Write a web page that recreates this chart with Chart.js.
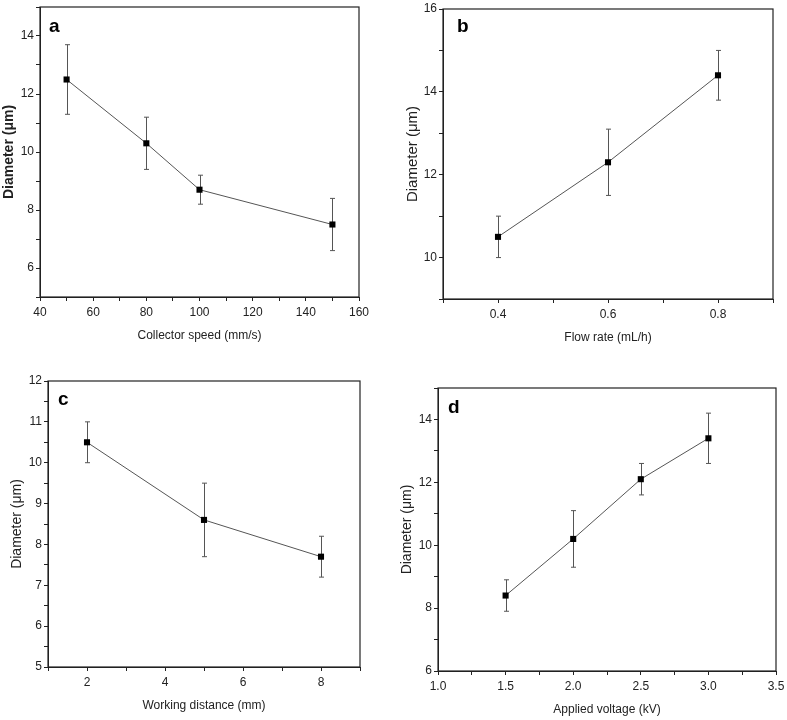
<!DOCTYPE html>
<html>
<head>
<meta charset="utf-8">
<script src="https://cdn.jsdelivr.net/npm/chart.js@4.4.1/dist/chart.umd.min.js"></script>
<style>
  body { margin: 0; background: #fff; width: 787px; height: 720px; overflow: hidden; position: relative; }
  .panel { position: absolute; }
</style>
</head>
<body>
<div class="panel" id="pa"><canvas id="ca"></canvas></div>
<div class="panel" id="pb"><canvas id="cb"></canvas></div>
<div class="panel" id="pc"><canvas id="cc"></canvas></div>
<div class="panel" id="pd"><canvas id="cd"></canvas></div>
<script>
// (a) collector speed
const speedX = [50, 80, 100, 150];
const speedY = [12.5, 10.3, 8.7, 7.5];
const speedErr = [1.2, 0.9, 0.5, 0.9];
// (b) flow rate
const flowX = [0.4, 0.6, 0.8];
const flowY = [10.5, 12.3, 14.4];
const flowErr = [0.5, 0.8, 0.6];
// (c) working distance
const distX = [2, 5, 8];
const distY = [10.5, 8.6, 7.7];
const distErr = [0.5, 0.9, 0.5];
// (d) applied voltage
const voltX = [1.5, 2.0, 2.5, 3.0];
const voltY = [8.4, 10.2, 12.1, 13.4];
const voltErr = [0.5, 0.9, 0.5, 0.8];

const ink = '#222';
const family = "'Liberation Sans', Arial, sans-serif";
const YW = 39, XH = 46;

// box around the plot area + panel letter
const framePlugin = {
  id: 'frame',
  afterDraw(chart, args, opts) {
    const a = chart.chartArea, ctx = chart.ctx;
    ctx.save();
    ctx.strokeStyle = ink;
    ctx.lineWidth = 1.2;
    ctx.strokeRect(a.left, a.top, a.right - a.left, a.bottom - a.top);
    ctx.fillStyle = '#000';
    ctx.font = 'bold 19px ' + family;
    ctx.textBaseline = 'alphabetic';
    ctx.fillText(opts.letter, a.left + opts.dx, a.top + opts.dy);
    ctx.restore();
  }
};

// vertical error bars with caps
const errorBars = {
  id: 'errorBars',
  beforeDatasetsDraw(chart) {
    const ctx = chart.ctx, xs = chart.scales.x, ys = chart.scales.y;
    ctx.save();
    ctx.strokeStyle = '#555';
    ctx.lineWidth = 1;
    chart.data.datasets.forEach(ds => {
      ds.data.forEach((p, i) => {
        const e = ds.errors[i];
        const px = Math.round(xs.getPixelForValue(p.x)) + 0.5;
        const top = ys.getPixelForValue(p.y + e);
        const bot = ys.getPixelForValue(p.y - e);
        ctx.beginPath();
        ctx.moveTo(px, top); ctx.lineTo(px, bot);
        ctx.moveTo(px - 2.5, top); ctx.lineTo(px + 2.5, top);
        ctx.moveTo(px - 2.5, bot); ctx.lineTo(px + 2.5, bot);
        ctx.stroke();
      });
    });
    ctx.restore();
  }
};

function axis(o, horizontal) {
  return {
    type: 'linear',
    min: o.min, max: o.max,
    ticks: {
      stepSize: o.step, autoSkip: false, maxRotation: 0,
      color: ink, font: { size: 12, family }, padding: horizontal ? 4 : 2,
      callback: o.label
    },
    grid: { drawOnChartArea: false, drawTicks: true, tickLength: 4, tickColor: ink, color: ink },
    border: { display: true, color: ink, width: 1 },
    title: {
      display: true, text: o.title, color: ink, padding: 0,
      font: { size: o.titleSize || 12, family, weight: o.bold ? 'bold' : 'normal' }
    },
    afterFit(s) {
      if (horizontal) s.height = XH; else s.width = YW;
      s.paddingLeft = s.paddingRight = s.paddingTop = s.paddingBottom = 0;
    }
  };
}

function makePanel(divId, canvasId, box, xv, yv, ev, xAxis, yAxis, letter) {
  const padTop = 8, padRight = box.padR;
  const left = box.L - YW, top = box.T - padTop;
  const w = (box.R - box.L) + YW + padRight;
  const h = (box.B - box.T) + padTop + XH;
  const div = document.getElementById(divId);
  div.style.left = left + 'px'; div.style.top = top + 'px';
  div.style.width = w + 'px'; div.style.height = h + 'px';
  const cv = document.getElementById(canvasId);
  cv.width = w; cv.height = h;
  cv.style.width = w + 'px'; cv.style.height = h + 'px';

  new Chart(cv.getContext('2d'), {
    type: 'line',
    data: {
      datasets: [{
        data: xv.map((x, i) => ({ x, y: yv[i] })),
        errors: ev,
        borderColor: '#555',
        borderWidth: 1,
        tension: 0,
        pointStyle: 'rect',
        pointRadius: 4.3,
        pointBackgroundColor: '#000',
        pointBorderColor: '#000',
        pointBorderWidth: 0
      }]
    },
    options: {
      responsive: false,
      animation: false,
      layout: { padding: { top: padTop, right: padRight, left: 0, bottom: 0 } },
      scales: { x: axis(xAxis, true), y: axis(yAxis, false) },
      plugins: {
        legend: { display: false },
        tooltip: { enabled: false },
        frame: letter
      }
    },
    plugins: [errorBars, framePlugin]
  });
}

const even = v => (Math.round(v) % 2 === 0 && Math.abs(v - Math.round(v)) < 1e-6) ? String(v) : '';

makePanel('pa', 'ca', { L: 40, R: 359, T: 7, B: 297, padR: 14 }, speedX, speedY, speedErr,
  { min: 40, max: 160, step: 10, title: 'Collector speed (mm/s)', label: v => v % 20 === 0 ? String(v) : '' },
  { min: 5, max: 15, step: 1, title: 'Diameter (μm)', titleSize: 14, bold: true, label: even },
  { letter: 'a', dx: 9, dy: 25 });

makePanel('pb', 'cb', { L: 443, R: 773, T: 9, B: 299, padR: 14 }, flowX, flowY, flowErr,
  { min: 0.3, max: 0.9, step: 0.1, title: 'Flow rate (mL/h)', label: v => Math.round(v * 10) % 2 === 0 ? v.toFixed(1) : '' },
  { min: 9, max: 16, step: 1, title: 'Diameter (μm)', titleSize: 15, label: even },
  { letter: 'b', dx: 14, dy: 23 });

makePanel('pc', 'cc', { L: 48, R: 360, T: 381, B: 667, padR: 14 }, distX, distY, distErr,
  { min: 1, max: 9, step: 1, title: 'Working distance (mm)', label: even },
  { min: 5, max: 12, step: 0.5, title: 'Diameter (μm)', titleSize: 14, label: v => Number.isInteger(v) ? String(v) : '' },
  { letter: 'c', dx: 10, dy: 24 });

makePanel('pd', 'cd', { L: 438, R: 776, T: 388, B: 671, padR: 10 }, voltX, voltY, voltErr,
  { min: 1.0, max: 3.5, step: 0.25, title: 'Applied voltage (kV)', label: v => Math.round(v * 4) % 2 === 0 ? v.toFixed(1) : '' },
  { min: 6, max: 15, step: 1, title: 'Diameter (μm)', titleSize: 14, label: even },
  { letter: 'd', dx: 10, dy: 25 });
</script>
</body>
</html>
